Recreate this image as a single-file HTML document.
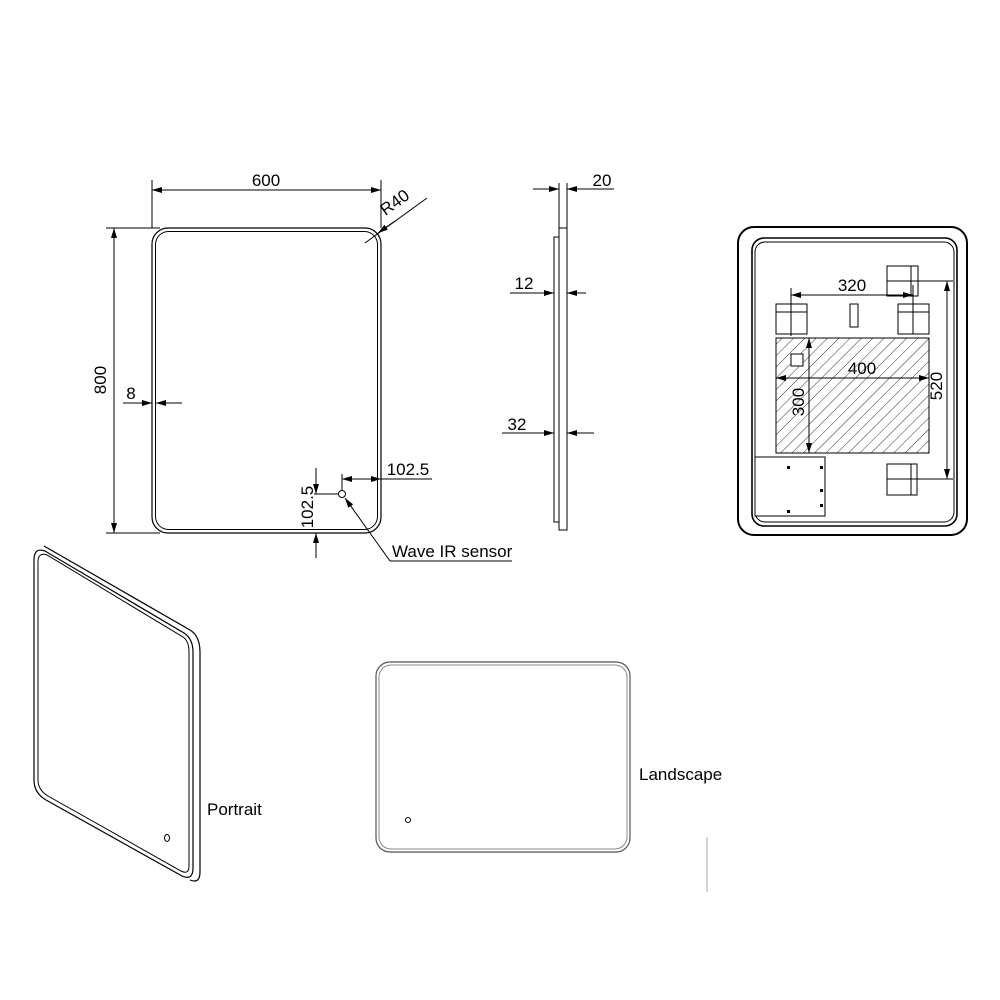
<!DOCTYPE html>
<html><head><meta charset="utf-8"><style>
html,body{margin:0;padding:0;background:#fff;}
svg{display:block;font-family:"Liberation Sans",Arial,sans-serif;}
</style></head><body>
<svg width="1000" height="1000" viewBox="0 0 1000 1000" xmlns="http://www.w3.org/2000/svg">
<defs>
<marker id="a" viewBox="0 0 10 6" refX="10" refY="3" markerWidth="10" markerHeight="6" orient="auto-start-reverse" markerUnits="userSpaceOnUse"><path d="M0,0 L10,3 L0,6 Z" fill="#000"/></marker>
<pattern id="h" patternUnits="userSpaceOnUse" width="8" height="8" patternTransform="rotate(45)"><line x1="0" y1="0" x2="0" y2="8" stroke="#333" stroke-width="1"/></pattern>
</defs>
<g fill="none" stroke="#000" stroke-width="1">
<rect x="152" y="228" width="229" height="305" rx="16" stroke-width="1.2"/>
<rect x="155.5" y="231.5" width="222" height="298" rx="13" stroke-width="1"/>
<line x1="152" y1="180" x2="152" y2="228"/>
<line x1="381" y1="180" x2="381" y2="228"/>
<line x1="152" y1="190" x2="381" y2="190" marker-start="url(#a)" marker-end="url(#a)"/>
<line x1="106" y1="228" x2="160" y2="228"/>
<line x1="106" y1="533" x2="160" y2="533"/>
<line x1="114" y1="228" x2="114" y2="533" marker-start="url(#a)" marker-end="url(#a)"/>
<line x1="365" y1="243" x2="427" y2="198"/>
<line x1="395" y1="221" x2="378" y2="233" marker-end="url(#a)"/>
<line x1="123" y1="403" x2="152" y2="403" marker-end="url(#a)"/>
<line x1="182" y1="403" x2="156" y2="403" marker-end="url(#a)"/>
<circle cx="342" cy="494" r="3.5"/>
<line x1="342" y1="474" x2="342" y2="490"/>
<line x1="342" y1="479" x2="381" y2="479" marker-start="url(#a)" marker-end="url(#a)"/>
<line x1="381" y1="479" x2="432" y2="479"/>
<line x1="314" y1="494" x2="338" y2="494"/>
<line x1="316" y1="468" x2="316" y2="494" marker-end="url(#a)"/>
<line x1="316" y1="558" x2="316" y2="533" marker-end="url(#a)"/>
<line x1="290" y1="533" x2="324" y2="533"/>
<line x1="390" y1="561" x2="345" y2="498" marker-end="url(#a)"/>
<line x1="390" y1="561" x2="512" y2="561"/>
<rect x="559" y="228" width="8" height="302"/>
<rect x="554" y="237" width="5" height="285"/>
<line x1="559" y1="183" x2="559" y2="228"/>
<line x1="567" y1="183" x2="567" y2="228"/>
<line x1="533" y1="189" x2="559" y2="189" marker-end="url(#a)"/>
<line x1="614" y1="189" x2="567" y2="189" marker-end="url(#a)"/>
<line x1="510" y1="293" x2="554" y2="293" marker-end="url(#a)"/>
<line x1="586" y1="293" x2="567" y2="293" marker-end="url(#a)"/>
<line x1="502" y1="433" x2="554" y2="433" marker-end="url(#a)"/>
<line x1="594" y1="433" x2="567" y2="433" marker-end="url(#a)"/>
<rect x="738" y="227" width="229" height="308" rx="16" stroke-width="2"/>
<rect x="752" y="238" width="205" height="288" rx="12" stroke-width="1.6"/>
<rect x="755" y="242" width="199" height="280" rx="10"/>
<rect x="776" y="338" width="153" height="115" fill="url(#h)"/>
<rect x="791" y="354" width="12" height="12" fill="#fff"/>
<rect x="776" y="304" width="31" height="30"/><line x1="776" y1="312" x2="807" y2="312"/>
<rect x="898" y="304" width="31" height="30"/><line x1="898" y1="312" x2="929" y2="312"/>
<rect x="850" y="304" width="8" height="23"/>
<rect x="887" y="266" width="31" height="30"/><line x1="911" y1="266" x2="911" y2="296"/>
<rect x="887" y="464" width="30" height="31"/><line x1="911" y1="464" x2="911" y2="495"/>
<rect x="755" y="457" width="70" height="59" fill="#fff"/>
<line x1="791" y1="288" x2="791" y2="336"/>
<line x1="913" y1="285" x2="913" y2="334"/>
<line x1="791" y1="295" x2="913" y2="295" marker-start="url(#a)" marker-end="url(#a)"/>
<line x1="776" y1="378" x2="929" y2="378" marker-start="url(#a)" marker-end="url(#a)"/>
<line x1="809" y1="338" x2="809" y2="453" marker-start="url(#a)" marker-end="url(#a)"/>
<line x1="887" y1="281" x2="953" y2="281"/>
<line x1="887" y1="479" x2="953" y2="479"/>
<line x1="947" y1="281" x2="947" y2="479" marker-start="url(#a)" marker-end="url(#a)"/>
<path d="M44,546 L190,630 Q200,636 200,652 L200,872 Q200,884 190,880" stroke-width="1.2"/>
<path d="M34,560 Q34,547 45,551 L184,633 Q193,639 193,652 L193,868 Q193,881 182,876 L46,800 Q34,793 34,780 Z" stroke-width="1.2"/>
<path d="M38,562 Q38,552 47,555 L183,637 Q189,641 189,652 L189,866 Q189,875 181,871 L48,796 Q38,790 38,780 Z"/>
<ellipse cx="167" cy="838" rx="2.5" ry="3.5"/>
<rect x="376" y="662" width="254" height="190" rx="14" stroke="#555" stroke-width="1.2"/>
<rect x="379" y="665" width="248" height="184" rx="12" stroke="#888"/>
<circle cx="408" cy="820" r="2.5"/>
<line x1="707" y1="837" x2="707" y2="892" stroke="#aaa"/>
</g>
<g fill="#000" font-size="17">
<rect x="787" y="466" width="3" height="3"/><rect x="820" y="466" width="3" height="3"/><rect x="820" y="489" width="3" height="3"/><rect x="820" y="504" width="3" height="3"/><rect x="787" y="510" width="3" height="3"/>
<text x="266" y="186" text-anchor="middle">600</text>
<text x="100" y="380" text-anchor="middle" transform="rotate(-90 100 380) translate(0 6)">800</text>
<text x="398" y="207" transform="rotate(-36 398 207)" text-anchor="middle">R40</text>
<text x="131" y="399" text-anchor="middle">8</text>
<text x="408" y="475" text-anchor="middle">102.5</text>
<text x="307" y="507" text-anchor="middle" transform="rotate(-90 307 507) translate(0 6)">102.5</text>
<text x="392" y="557">Wave IR sensor</text>
<text x="602" y="186" text-anchor="middle">20</text>
<text x="524" y="289" text-anchor="middle">12</text>
<text x="517" y="430" text-anchor="middle">32</text>
<text x="852" y="291" text-anchor="middle">320</text>
<text x="862" y="374" text-anchor="middle">400</text>
<text x="798" y="402" text-anchor="middle" transform="rotate(-90 798 402) translate(0 6)">300</text>
<text x="936" y="386" text-anchor="middle" transform="rotate(-90 936 386) translate(0 6)">520</text>
<text x="207" y="815">Portrait</text>
<text x="639" y="780">Landscape</text>
</g>
</svg>
</body></html>
